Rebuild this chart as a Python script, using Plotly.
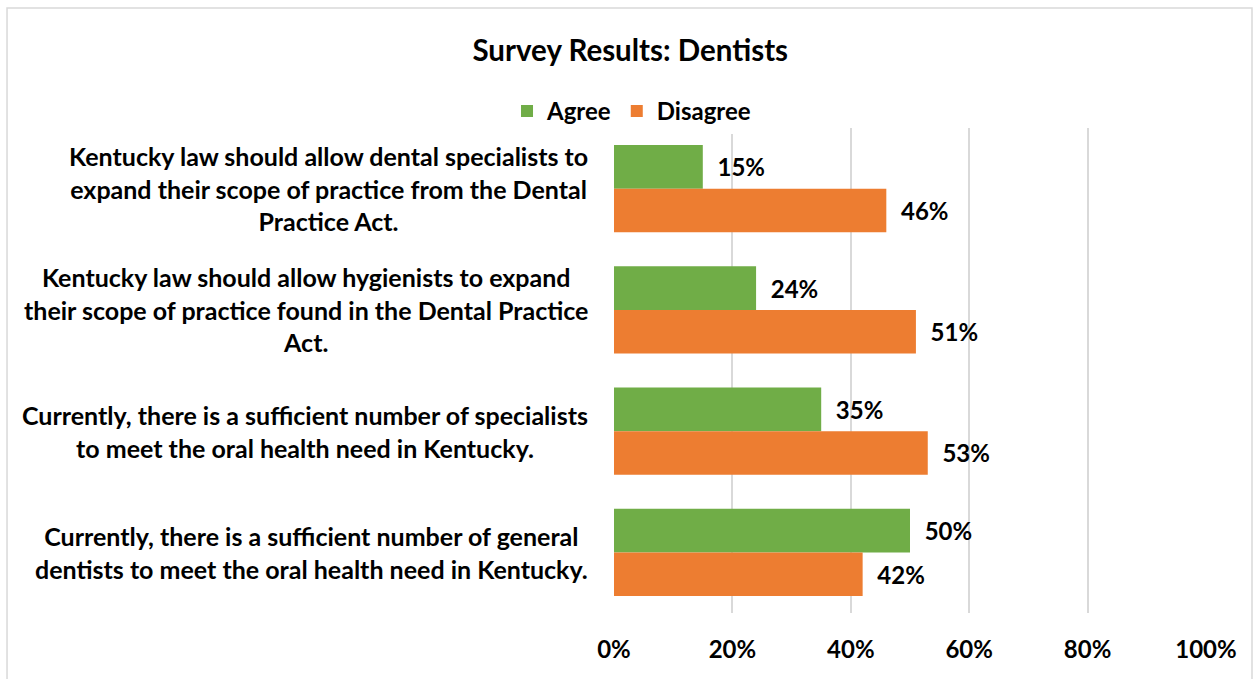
import plotly.graph_objects as go

# Survey statements, listed top to bottom
statements = [
    "Kentucky law should allow dental specialists to<br>expand their scope of practice from the Dental<br>Practice Act.",
    "Kentucky law should allow hygienists to expand<br>their scope of practice found in the Dental Practice<br>Act.",
    "Currently, there is a sufficient number of specialists<br>to meet the oral health need in Kentucky.",
    "Currently, there is a sufficient number of general<br>dentists to meet the oral health need in Kentucky.",
]
agree = [15, 24, 35, 50]
disagree = [46, 51, 53, 42]
x_ticks = [0, 20, 40, 60, 80, 100]

FONT = "Lato"
SIZE = 24
GREEN = "#70AD47"
ORANGE = "#ED7D31"

fig = go.Figure()
for name, vals, color in [("Agree", agree, GREEN), ("Disagree", disagree, ORANGE)]:
    fig.add_trace(go.Bar(
        name=name,
        y=list(range(len(statements))),
        x=vals,
        orientation="h",
        marker=dict(color=color, line=dict(width=0)),
        text=[f"{v}%" for v in vals],
        texttemplate="  %{text}",
        textposition="outside",
        cliponaxis=False,
        textfont=dict(family=FONT, size=SIZE, color="black", weight="bold"),
    ))

# Category labels: block right-aligned against the axis, lines centred
for i, s in enumerate(statements):
    fig.add_annotation(
        x=0, xref="paper", y=i, yref="y",
        text=s, showarrow=False, xanchor="right", align="center",
        xshift=-24,
        font=dict(family=FONT, size=25, color="black", weight="bold"),
    )

# Outer chart frame
fig.add_shape(type="rect", xref="paper", yref="paper",
              x0=-1.0253, x1=1.0777, y0=-0.2, y1=1.2474,
              line=dict(color="#D9D9D9", width=1.5), layer="below")

fig.update_layout(
    width=1253, height=679,
    margin=dict(l=614, r=47, t=128, b=66, autoexpand=False),
    paper_bgcolor="white", plot_bgcolor="white",
    barmode="group", bargap=0.28, bargroupgap=0,
    title=dict(text="Survey Results: Dentists", x=0.503, xref="container", xanchor="center",
               y=0.925, yanchor="middle",
               font=dict(family=FONT, size=29.5, color="black", weight="bold")),
    legend=dict(orientation="h", x=0.504, xref="container", xanchor="center",
                y=0.836, yref="container", yanchor="middle",
                font=dict(family=FONT, size=SIZE, color="black", weight="bold"),
                itemwidth=30, traceorder="normal"),
    showlegend=True,
)

fig.update_xaxes(range=[0, 100], tickvals=x_ticks, ticktext=[f"{t}%" for t in x_ticks],
                 showgrid=True, gridcolor="#D9D9D9", gridwidth=1.5, zeroline=False,
                 showline=False, ticks="", ticklabelstandoff=20, automargin=False,
                 tickfont=dict(family=FONT, size=SIZE, color="black", weight="bold"))
fig.update_yaxes(autorange="reversed", showticklabels=False, showgrid=False,
                 zeroline=False, showline=False, automargin=False)

fig.write_html("out.html")
